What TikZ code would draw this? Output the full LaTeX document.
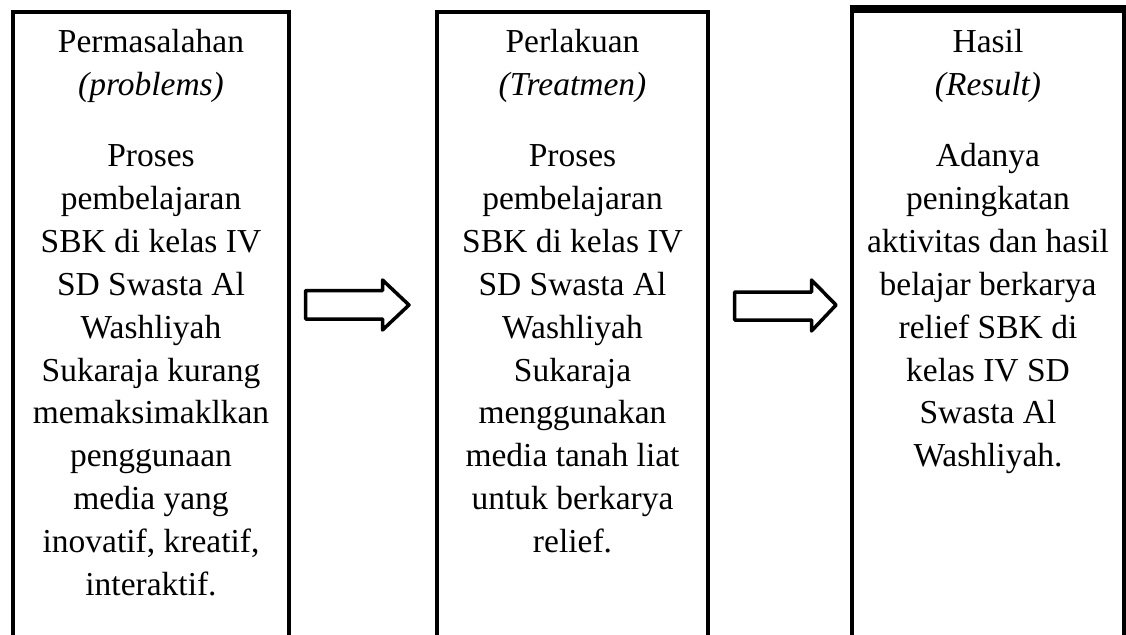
\documentclass[tikz,border=0pt]{standalone}
\usepackage{fontspec}
\setmainfont{Liberation Serif}
\begin{document}
\begin{tikzpicture}[x=1pt,y=-1pt,
  panel/.style={draw=none, rectangle, inner sep=0pt, minimum width=#1},
  frame/.style={line width=3.5pt, line cap=rect},
  txt/.style={anchor=north, inner sep=0pt, align=center,
    font=\fontsize{33.5}{42.9}\selectfont},
  blockarrow/.style={draw, fill=white, line width=3.5pt, line join=round}]
\useasboundingbox (0,0) rectangle (1126,634);
% panels
\node[panel=276pt, minimum height=640pt] (b1) at (151,332) {};
\node[panel=271pt, minimum height=640pt] (b2) at (572.5,332) {};
\node[panel=272pt, minimum height=643pt] (b3) at (988,330.5) {};
\draw[frame] (b1.south west) -- (b1.north west) -- (b1.north east) -- (b1.south east);
\draw[frame] (b2.south west) -- (b2.north west) -- (b2.north east) -- (b2.south east);
\draw[line width=4pt] (b3.south west) -- (b3.north west);
\draw[line width=4pt] (b3.south east) -- (b3.north east);
\draw[line width=8pt] ([xshift=-2pt]b3.north west) -- ([xshift=2pt]b3.north east);
% texts
\node[txt] (t1) at (151,22.5) {\strut Permasalahan\\\textit{(problems)}\\[28pt]
Proses\\pembelajaran\\SBK di kelas IV\\SD Swasta Al\\Washliyah\\Sukaraja kurang\\memaksimaklkan\\penggunaan\\media yang\\inovatif, kreatif,\\interaktif.};
\node[txt] (t2) at (572.5,22.5) {\strut Perlakuan\\\textit{(Treatmen)}\\[28pt]
Proses\\pembelajaran\\SBK di kelas IV\\SD Swasta Al\\Washliyah\\Sukaraja\\menggunakan\\media tanah liat\\untuk berkarya\\relief.};
\node[txt] (t3) at (988,22.5) {\strut Hasil\\\textit{(Result)}\\[28pt]
Adanya\\peningkatan\\aktivitas dan hasil\\belajar berkarya\\relief SBK di\\kelas IV SD\\Swasta Al\\Washliyah.};
% block arrows
\coordinate (a1) at (305.5,305);
\coordinate (a2) at (734.5,305);
\draw[blockarrow] (a1) ++(0,-14.5) -- ++(77,0) -- ++(0,-10.5) -- (409,305) -- (382.5,330) -- (382.5,319) -- (305.5,319) -- cycle;
\draw[blockarrow] (a2) ++(0,-13) -- ++(77,0) -- ++(0,-12) -- (836,305) -- (811.5,331) -- (811.5,320) -- (734.5,320) -- cycle;
\end{tikzpicture}
\end{document}
